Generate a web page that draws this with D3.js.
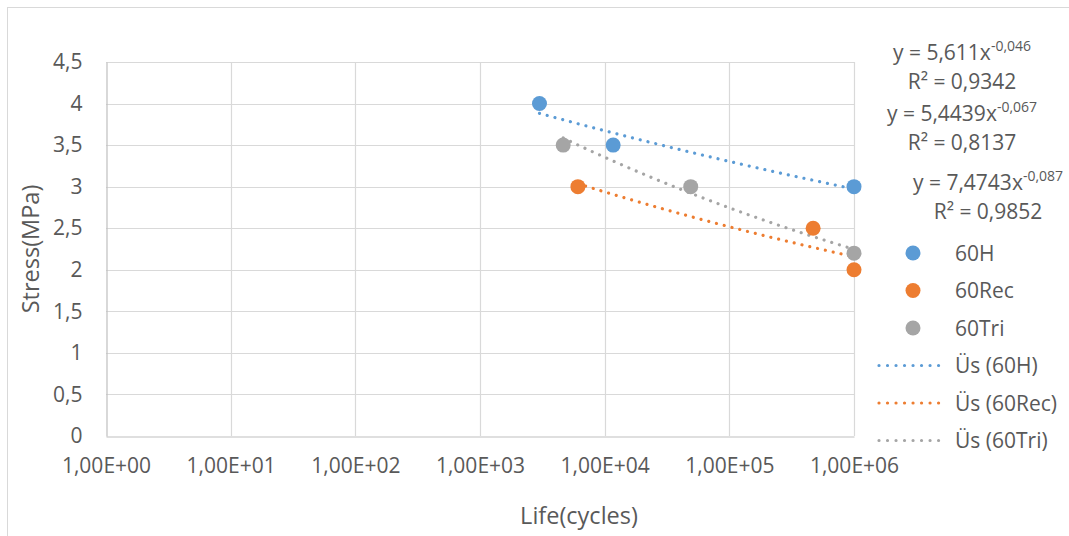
<!DOCTYPE html>
<html>
<head>
<meta charset="utf-8">
<script src="https://cdn.jsdelivr.net/npm/d3@7"></script>
<style>
  html, body { margin: 0; padding: 0; background: #fff; }
  svg { display: block; font-family: "Open Sans", sans-serif; }
</style>
</head>
<body>
<svg id="chart" width="1069" height="536"></svg>
<script>
// Fatigue life data (cycles vs. stress in MPa) for three specimen series
const seriesNames = ["60H", "60Rec", "60Tri"];
const seriesColors = ["#5B9BD5", "#ED7D31", "#A5A5A5"];
const lifeH   = [3000, 11700, 1000000];
const stressH = [4, 3.5, 3];
const lifeRec   = [6100, 470000, 1000000];
const stressRec = [3, 2.5, 2];
const lifeTri   = [4650, 49000, 1000000];
const stressTri = [3.5, 3, 2.2];

// Power-law trendline coefficients y = a * x^b, with R²
const trendA  = [5.611, 5.4439, 7.4743];
const trendB  = [-0.046, -0.067, -0.087];
const trendR2 = ["0,9342", "0,8137", "0,9852"];
const trendEq = ["y = 5,611x", "y = 5,4439x", "y = 7,4743x"];
const trendExp = ["-0,046", "-0,067", "-0,087"];
const trendLegend = ["Üs (60H)", "Üs (60Rec)", "Üs (60Tri)"];

const xTicks = [1, 10, 100, 1000, 10000, 100000, 1000000];
const xTickLabels = ["1,00E+00", "1,00E+01", "1,00E+02", "1,00E+03", "1,00E+04", "1,00E+05", "1,00E+06"];
const yTicks = [0, 0.5, 1, 1.5, 2, 2.5, 3, 3.5, 4, 4.5];
const yTickLabels = ["0", "0,5", "1", "1,5", "2", "2,5", "3", "3,5", "4", "4,5"];

const series = [
  { life: lifeH, stress: stressH },
  { life: lifeRec, stress: stressRec },
  { life: lifeTri, stress: stressTri }
];

const svg = d3.select("#chart");
const textColor = "#595959";
const labelSize = "21px";

// Chart frame
svg.append("rect")
  .attr("x", 7.5).attr("y", 7.5)
  .attr("width", 1100).attr("height", 600)
  .attr("fill", "none").attr("stroke", "#D9D9D9").attr("stroke-width", 1);

const plot = { left: 106, right: 854, top: 62, bottom: 436 };

const x = d3.scaleLog().domain([1, 1000000]).range([plot.left, plot.right]);
const y = d3.scaleLinear().domain([0, 4.5]).range([plot.bottom, plot.top]);

// Gridlines
const grid = svg.append("g");
grid.selectAll("line.h").data(yTicks.slice(1)).enter().append("line")
  .attr("x1", plot.left).attr("x2", plot.right)
  .attr("y1", d => Math.round(y(d)) + 0.5).attr("y2", d => Math.round(y(d)) + 0.5)
  .attr("stroke", "#D9D9D9").attr("stroke-width", 1.2);
grid.selectAll("line.v").data(xTicks.slice(1)).enter().append("line")
  .attr("y1", plot.top).attr("y2", plot.bottom)
  .attr("x1", d => Math.round(x(d)) + 0.5).attr("x2", d => Math.round(x(d)) + 0.5)
  .attr("stroke", "#D9D9D9").attr("stroke-width", 1.2);

// Axes
const xAxis = d3.axisBottom(x).tickValues(xTicks)
  .tickFormat((d, i) => xTickLabels[i]).tickSize(0).tickPadding(22);
const gx = svg.append("g").attr("transform", `translate(0,${plot.bottom + 0.5})`).call(xAxis);
gx.select(".domain").attr("stroke", "#BFBFBF").attr("stroke-width", 1.2);
gx.selectAll("text").attr("fill", textColor).attr("font-size", labelSize)
  .attr("font-family", "'Open Sans', sans-serif");

const yAxis = d3.axisLeft(y).tickValues(yTicks)
  .tickFormat((d, i) => yTickLabels[i]).tickSize(0).tickPadding(24);
const gy = svg.append("g").attr("transform", `translate(${plot.left + 0.5},0)`).call(yAxis);
gy.select(".domain").attr("stroke", "#BFBFBF").attr("stroke-width", 1.2);
gy.selectAll("text").attr("fill", textColor).attr("font-size", labelSize)
  .attr("font-family", "'Open Sans', sans-serif");

// Axis titles
svg.append("text")
  .attr("x", 579).attr("y", 524)
  .attr("text-anchor", "middle").attr("fill", textColor).attr("font-size", "23.5px")
  .text("Life(cycles)");
svg.append("text")
  .attr("transform", `translate(39,${(plot.top + plot.bottom) / 2}) rotate(-90)`)
  .attr("text-anchor", "middle").attr("fill", textColor).attr("font-size", "23.5px")
  .text("Stress(MPa)");

// Trendlines
const dotted = { width: 3.2, dash: "0.01 8" };
series.forEach((s, i) => {
  const xmin = d3.min(s.life), xmax = d3.max(s.life);
  const pts = d3.range(0, 101).map(k => {
    const lx = Math.log10(xmin) + (Math.log10(xmax) - Math.log10(xmin)) * k / 100;
    const xv = Math.pow(10, lx);
    return [xv, trendA[i] * Math.pow(xv, trendB[i])];
  });
  svg.append("path")
    .datum(pts)
    .attr("d", d3.line().x(d => x(d[0])).y(d => y(d[1])))
    .attr("fill", "none")
    .attr("stroke", seriesColors[i])
    .attr("stroke-width", dotted.width)
    .attr("stroke-linecap", "round")
    .attr("stroke-dasharray", dotted.dash);
});

// Data points
series.forEach((s, i) => {
  svg.append("g").selectAll("circle")
    .data(s.life.map((l, k) => [l, s.stress[k]]))
    .enter().append("circle")
    .attr("cx", d => x(d[0])).attr("cy", d => y(d[1]))
    .attr("r", 7.5).attr("fill", seriesColors[i]);
});

// Trendline equations
const eqPos = [
  { cx: 962, y1: 60, y2: 89 },
  { cx: 962, y1: 121, y2: 150 },
  { cx: 988, y1: 190, y2: 219 }
];
eqPos.forEach((p, i) => {
  const t = svg.append("text")
    .attr("x", p.cx).attr("y", p.y1)
    .attr("text-anchor", "middle").attr("fill", textColor).attr("font-size", "21px");
  t.append("tspan").text(trendEq[i]);
  t.append("tspan").attr("dy", -9).attr("font-size", "14px").text(trendExp[i]);
  svg.append("text")
    .attr("x", p.cx).attr("y", p.y2)
    .attr("text-anchor", "middle").attr("fill", textColor).attr("font-size", "21px")
    .text("R² = " + trendR2[i]);
});

// Legend
const legend = svg.append("g");
seriesNames.forEach((name, i) => {
  const ly = 253 + i * 37.5;
  legend.append("circle").attr("cx", 913).attr("cy", ly).attr("r", 7.5).attr("fill", seriesColors[i]);
  legend.append("text").attr("x", 955).attr("y", ly + 7.5)
    .attr("fill", textColor).attr("font-size", "21px").text(name);
});
trendLegend.forEach((name, i) => {
  const ly = 365.5 + i * 37.5;
  legend.append("line")
    .attr("x1", 879).attr("x2", 947).attr("y1", ly).attr("y2", ly)
    .attr("stroke", seriesColors[i]).attr("stroke-width", dotted.width)
    .attr("stroke-linecap", "round").attr("stroke-dasharray", "0.01 8.5");
  legend.append("text").attr("x", 955).attr("y", ly + 7.5)
    .attr("fill", textColor).attr("font-size", "21px").text(name);
});
</script>
</body>
</html>
